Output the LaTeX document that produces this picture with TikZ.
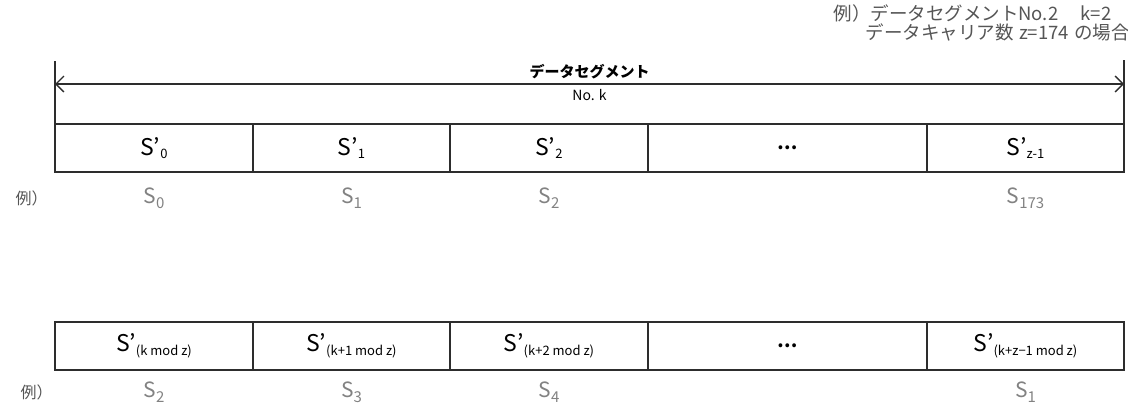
\documentclass[tikz,border=0pt]{standalone}
\usepackage{fontspec}
\setmainfont{Noto Sans CJK JP}
\usepackage{xcolor}
\usetikzlibrary{positioning, arrows.meta}

\definecolor{linegray}{RGB}{45,45,45}
\definecolor{exgray}{RGB}{130,130,130}
\definecolor{notegray}{RGB}{85,85,85}
\newcommand{\lowidx}[1]{\raisebox{-0.3ex}{\fontsize{13}{14}\selectfont #1}}
\newcommand{\exidx}[1]{\raisebox{-0.45ex}{\fontsize{15}{16}\selectfont #1}}

\begin{document}
\begin{tikzpicture}[x=1pt, y=-1pt, >={Straight Barb[length=8pt,width=16pt]},
    cell/.style={draw=linegray, line width=1.6pt, minimum height=48pt,
      inner sep=0pt, outer sep=0pt, font=\fontsize{23}{26}\selectfont},
    bar/.style={draw=linegray, line width=1.6pt},
    exlbl/.style={text=exgray, font=\fontsize{21}{24}\selectfont},
    exhead/.style={text=notegray, anchor=west, font=\fontsize{16}{18}\selectfont},
    note/.style={text=notegray, anchor=west, font=\fontsize{18.5}{20}\selectfont}]
  \useasboundingbox (0,0) rectangle (1128,402);

  % note
  \node[note] (note1) at (830,13) {例）データセグメントNo.2\hspace{1.2em}k=2};
  \node[note] (note2) at (862,32) {データキャリア数\hspace{0.3em}z=174\hspace{0.3em}の場合};

  % data segment No. k
  \node[cell, minimum width=198pt, anchor=north west] (t0) at (55,124) {S’\lowidx{0}};
  \node[cell, minimum width=197pt, right=0pt of t0] (t1) {S’\lowidx{1}};
  \node[cell, minimum width=198pt, right=0pt of t1] (t2) {S’\lowidx{2}};
  \node[cell, minimum width=279pt, right=0pt of t2] (t3) {\fontsize{18}{20}\selectfont\textbf{…}};
  \node[cell, minimum width=197pt, right=0pt of t3] (t4) {S’\lowidx{z-1}};

  \coordinate (ltop) at (55,61);
  \coordinate (rtop) at (1124,60);
  \coordinate (larr) at (55,84);
  \coordinate (rarr) at (1124,84);
  \draw[bar] (ltop) -- (t0.north west);
  \draw[bar] (rtop) -- (t4.north east);
  \draw[<->, draw=linegray, line width=1.3pt] (larr) -- (rarr)
    node[midway, above=1pt, font=\fontsize{15}{17}\selectfont\bfseries] (seg) {データセグメント}
    node[midway, below=1pt, font=\fontsize{14}{16}\selectfont] (segno) {No. k};

  \node[exhead] (ex1) at (12,198) {例）};
  \node[exlbl] (e0) at (t0 |- 0,198) {S\exidx{0}};
  \node[exlbl] (e1) at (t1 |- 0,198) {S\exidx{1}};
  \node[exlbl] (e2) at (t2 |- 0,198) {S\exidx{2}};
  \node[exlbl] (e4) at (t4 |- 0,198) {S\exidx{173}};

  % rearranged
  \node[cell, minimum width=198pt, anchor=north west] (b0) at (55,322) {S’\lowidx{(k mod z)}};
  \node[cell, minimum width=197pt, right=0pt of b0] (b1) {S’\lowidx{(k+1 mod z)}};
  \node[cell, minimum width=198pt, right=0pt of b1] (b2) {S’\lowidx{(k+2 mod z)}};
  \node[cell, minimum width=279pt, right=0pt of b2] (b3) {\fontsize{18}{20}\selectfont\textbf{…}};
  \node[cell, minimum width=197pt, right=0pt of b3] (b4) {S’\lowidx{(k+z−1 mod z)}};

  \node[exhead] (ex2) at (17,392) {例）};
  \node[exlbl] (f0) at (b0 |- 0,392) {S\exidx{2}};
  \node[exlbl] (f1) at (b1 |- 0,392) {S\exidx{3}};
  \node[exlbl] (f2) at (b2 |- 0,392) {S\exidx{4}};
  \node[exlbl] (f4) at (b4 |- 0,392) {S\exidx{1}};
\end{tikzpicture}
\end{document}
